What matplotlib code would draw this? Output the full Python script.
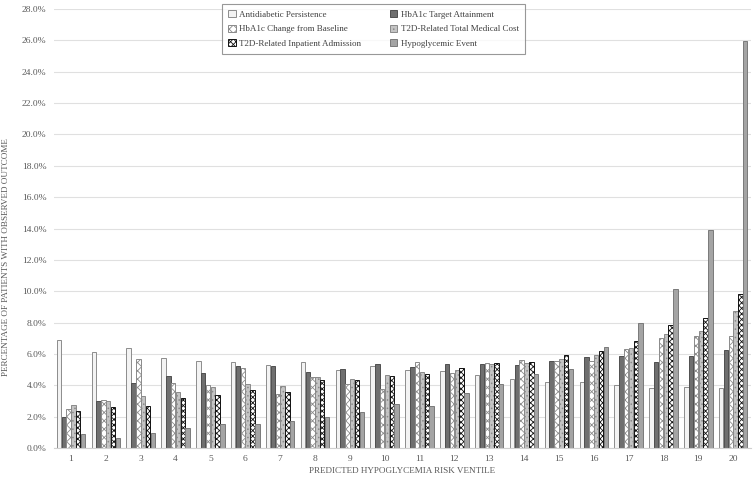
import numpy as np
import matplotlib.pyplot as plt
from matplotlib.ticker import FuncFormatter

plt.rcParams['font.family'] = ['Liberation Serif', 'DejaVu Serif']
plt.rcParams['hatch.linewidth'] = 0.6

ventiles = [str(i) for i in range(1, 21)]
series = ['Antidiabetic Persistence', 'HbA1c Target Attainment',
          'HbA1c Change from Baseline', 'T2D-Related Total Medical Cost',
          'T2D-Related Inpatient Admission', 'Hypoglycemic Event']

persist = [6.89, 6.10, 6.36, 5.76, 5.57, 5.46, 5.31, 5.46, 4.97, 5.23,
           5.00, 4.91, 4.63, 4.42, 4.21, 4.21, 4.00, 3.83, 3.91, 3.83]
target = [2.00, 3.00, 4.15, 4.57, 4.78, 5.25, 5.21, 4.85, 5.04, 5.38,
          5.17, 5.34, 5.34, 5.31, 5.53, 5.80, 5.85, 5.48, 5.89, 6.27]
change = [2.51, 3.04, 5.65, 4.12, 4.00, 5.08, 3.44, 4.51, 4.10, 3.74,
          5.48, 4.78, 5.42, 5.59, 5.53, 5.53, 6.31, 6.99, 7.16, 7.14]
cost = [2.76, 3.00, 3.30, 3.59, 3.91, 4.06, 3.93, 4.51, 4.40, 4.66,
        4.83, 4.95, 5.33, 5.40, 5.70, 5.95, 6.36, 7.27, 7.46, 8.74]
inpatient = [2.34, 2.59, 2.68, 3.17, 3.36, 3.70, 3.57, 4.34, 4.32, 4.61,
             4.70, 5.08, 5.41, 5.46, 5.91, 6.16, 6.82, 7.84, 8.27, 9.80]
hypo = [0.89, 0.66, 0.96, 1.30, 1.51, 1.51, 1.72, 1.98, 2.30, 2.81,
        2.68, 3.53, 4.06, 4.72, 5.04, 6.46, 7.97, 10.12, 13.92, 25.94]

data = [persist, target, change, cost, inpatient, hypo]
# face, edge, hatch
styles = [('#f3f3f3', '#8c8c8c', None),
          ('#6f6f6f', '#4f4f4f', None),
          ('#ffffff', '#8a8a8a', 'xxxx'),
          ('#c4c4c4', '#8a8a8a', '....'),
          ('#ffffff', '#111111', 'xxxxxx'),
          ('#a4a4a4', '#7a7a7a', None)]

fig = plt.figure(figsize=(7.56, 4.78), dpi=100)
ax = fig.add_axes([53.6 / 756, 1 - 448 / 478, 697 / 756, 439 / 478])

x = np.arange(1, 21)
w = 0.138
handles = []
for i, (vals, (fc, ec, h)) in enumerate(zip(data, styles)):
    b = ax.bar(x + (i - 2.5) * w, vals, width=w * 0.92, color=fc,
               edgecolor=ec, hatch=h, linewidth=0.7, label=series[i], zorder=2)
    handles.append(b)

ax.set_xlim(0.5, 20.5)
ax.set_ylim(0, 28)
ax.set_yticks(np.arange(0, 28.1, 2))
ax.yaxis.set_major_formatter(FuncFormatter(lambda v, p: '%.1f%%' % v))
ax.set_xticks(x)
ax.set_xticklabels(ventiles)
ax.grid(axis='y', color='#e0e0e0', linewidth=0.8, zorder=0)
ax.set_axisbelow(True)
for s in ['top', 'right', 'left']:
    ax.spines[s].set_visible(False)
ax.spines['bottom'].set_color('#d0d0d0')
ax.tick_params(axis='y', length=0, labelsize=6.8, colors='#595959', pad=5)
ax.tick_params(axis='x', length=0, labelsize=6.8, colors='#595959', pad=5)

ax.set_xlabel('PREDICTED HYPOGLYCEMIA RISK VENTILE', fontsize=6.6, color='#595959')
ax.xaxis.set_label_coords(0.5, -0.043, transform=ax.transAxes)
ax.xaxis.label.set_va('top')
ax.set_ylabel('PERCENTAGE OF PATIENTS WITH OBSERVED OUTCOME', fontsize=6.6, color='#595959')
ax.yaxis.set_label_coords(-0.062, (448 - 257) / 439)

order = [0, 2, 4, 1, 3, 5]
leg = ax.legend([handles[k] for k in order], [series[k] for k in order],
                ncol=2, loc='upper left', bbox_to_anchor=(0.2416, 1.0114),
                borderaxespad=0, fontsize=6.5, frameon=True, fancybox=False,
                edgecolor='#7f7f7f', handlelength=0.8, handleheight=0.8,
                handletextpad=0.4, columnspacing=3.2, labelspacing=0.65,
                borderpad=0.7)
leg.get_frame().set_linewidth(0.8)
for t in leg.get_texts():
    t.set_color('#404040')

fig.savefig('out.png', dpi=100)
